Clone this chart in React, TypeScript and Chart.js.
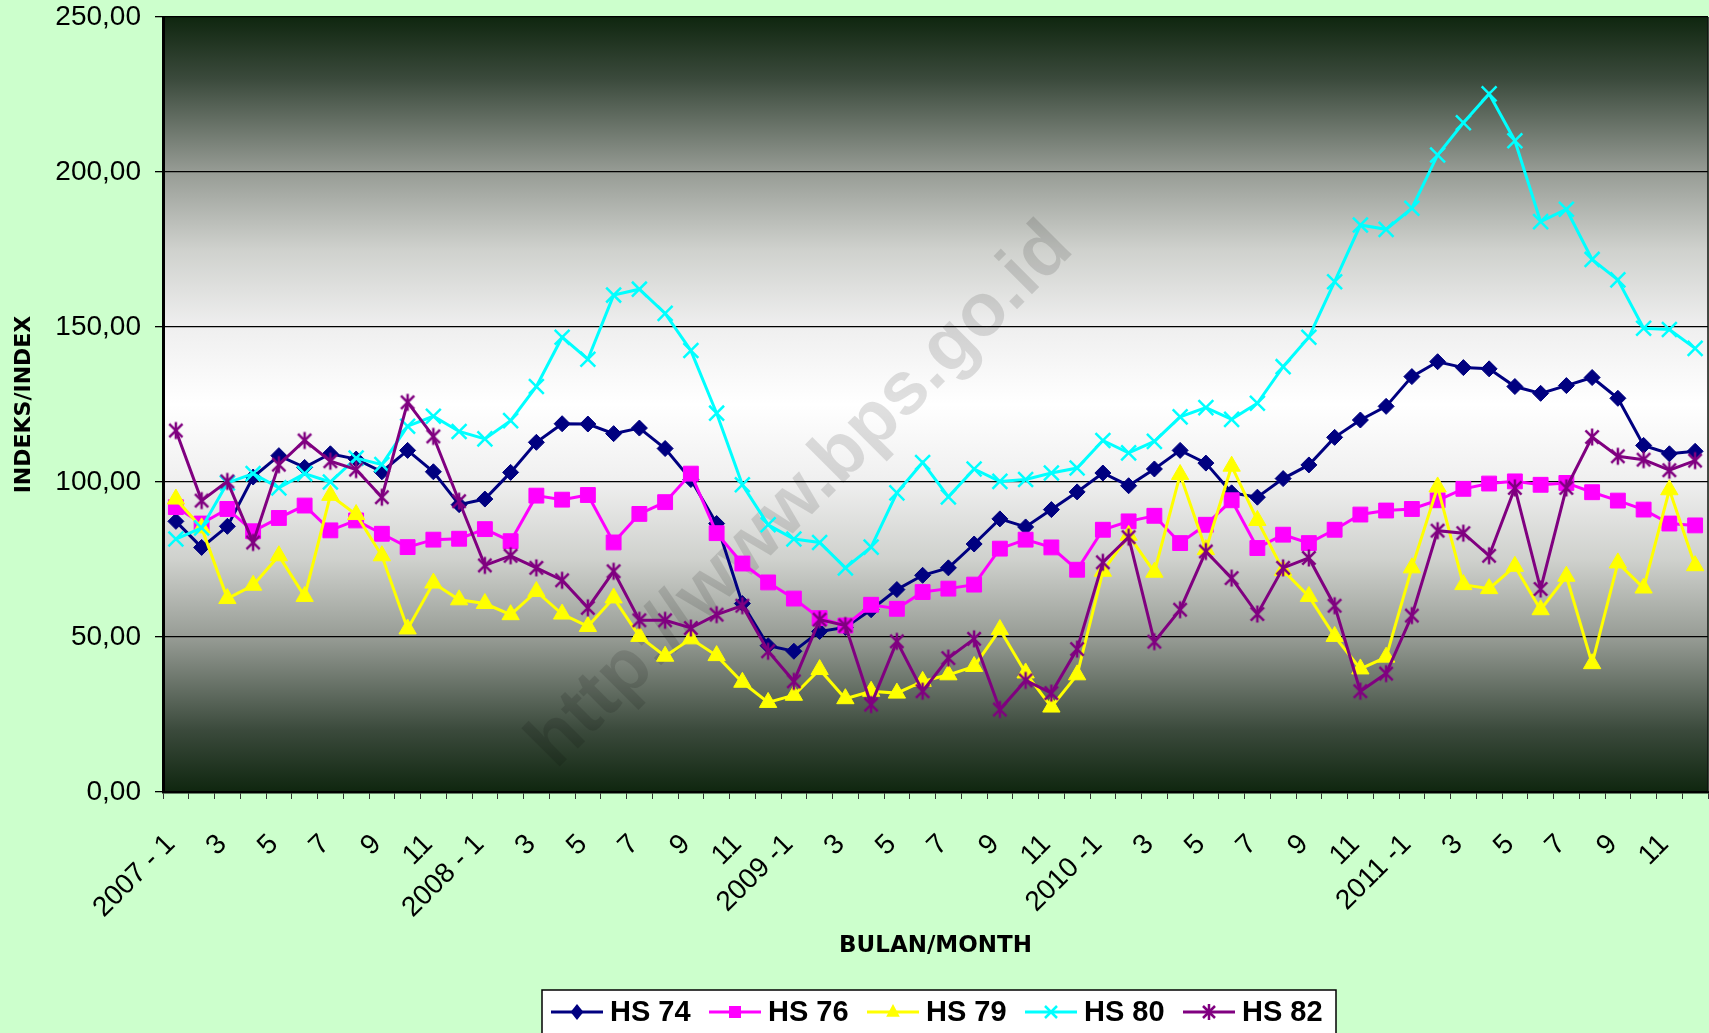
import React, { useEffect, useRef } from 'react';
import { Chart, registerables } from 'chart.js';
Chart.register(...registerables);

const categories = [
  '2007 - 1', '2', '3', '4', '5', '6', '7', '8', '9', '10', '11', '12',
  '2008 - 1', '2', '3', '4', '5', '6', '7', '8', '9', '10', '11', '12',
  '2009 -1', '2', '3', '4', '5', '6', '7', '8', '9', '10', '11', '12',
  '2010 -1', '2', '3', '4', '5', '6', '7', '8', '9', '10', '11', '12',
  '2011 -1', '2', '3', '4', '5', '6', '7', '8', '9', '10', '11', '12',
];

const hs74 = [87.3, 78.9, 85.7, 101.6, 108.5, 104.7, 109.1, 107.4, 103.3, 110.2, 103.3, 92.7, 94.5, 103.1, 112.8, 118.8, 118.7, 115.6, 117.4, 110.8, 100.8, 86.6, 60.8, 47.2, 45.4, 51.8, 53.1, 58.8, 65.3, 69.9, 72.3, 80.0, 88.1, 85.5, 91.1, 96.8, 102.9, 98.8, 104.2, 110.2, 106.1, 96.5, 95.1, 101.1, 105.5, 114.4, 120.0, 124.4, 134.0, 138.8, 136.9, 136.5, 130.8, 128.6, 131.1, 133.7, 127.0, 111.8, 109.1, 109.9];
const hs76 = [91.9, 86.6, 91.3, 84.1, 88.4, 92.4, 84.4, 87.6, 83.3, 79.0, 81.4, 81.7, 84.8, 80.9, 95.6, 94.3, 95.8, 80.5, 89.7, 93.5, 102.7, 83.5, 73.7, 67.6, 62.4, 56.1, 53.7, 60.4, 59.1, 64.5, 65.6, 66.9, 78.5, 81.4, 78.9, 71.7, 84.6, 87.3, 89.1, 80.3, 86.2, 94.1, 78.7, 83.0, 80.3, 84.6, 89.5, 90.8, 91.3, 94.1, 97.8, 99.5, 100.2, 99.1, 99.7, 96.7, 94.0, 91.1, 86.6, 86.0];
const hs79 = [94.5, 85.2, 62.4, 66.7, 76.2, 63.1, 95.7, 89.5, 76.2, 52.6, 67.4, 62.0, 60.8, 57.2, 64.7, 57.4, 53.4, 62.6, 50.2, 43.8, 49.4, 44.0, 35.4, 28.9, 31.2, 39.5, 30.1, 32.5, 31.9, 35.7, 37.8, 40.5, 52.4, 38.4, 27.4, 37.8, 71.2, 82.8, 70.9, 102.4, 78.2, 105.1, 87.6, 71.5, 63.1, 50.2, 39.7, 43.5, 72.3, 98.4, 66.9, 65.6, 72.8, 58.8, 69.6, 41.4, 73.9, 65.8, 97.5, 73.0];
const hs80 = [81.6, 85.2, 99.7, 102.7, 98.1, 102.7, 100.0, 107.7, 105.6, 118.0, 121.2, 116.3, 113.9, 119.8, 130.8, 146.7, 139.6, 160.3, 162.2, 154.4, 142.4, 122.2, 99.1, 86.2, 81.6, 80.5, 72.3, 79.0, 96.5, 106.3, 95.2, 104.2, 100.2, 100.8, 102.9, 104.5, 113.4, 109.4, 113.1, 121.0, 124.0, 120.2, 125.4, 137.2, 146.7, 164.6, 182.9, 181.5, 188.3, 205.5, 215.9, 225.2, 210.1, 184.0, 188.0, 171.8, 165.2, 149.6, 149.2, 143.1];
const hs82 = [116.6, 94.0, 100.2, 80.5, 105.6, 113.4, 106.7, 104.0, 95.1, 125.7, 114.7, 93.8, 73.1, 76.2, 72.3, 68.3, 59.4, 71.2, 55.4, 55.4, 52.9, 57.2, 60.1, 45.4, 35.7, 55.6, 53.7, 28.2, 48.6, 32.5, 43.2, 49.4, 26.6, 36.0, 31.9, 46.1, 74.1, 82.2, 48.5, 58.8, 77.6, 69.0, 57.4, 72.3, 75.5, 60.1, 32.5, 38.2, 56.9, 84.3, 83.5, 76.2, 98.1, 65.5, 98.1, 114.5, 108.3, 107.2, 103.8, 106.9];

const seriesNames = ['HS 74', 'HS 76', 'HS 79', 'HS 80', 'HS 82'];
const seriesColors = ['#000080', '#FF00FF', '#FFFF00', '#00FFFF', '#800080'];
const yMin = 0;
const yMax = 250;
const yStep = 50;
const xTitle = 'BULAN/MONTH';
const yTitle = 'INDEKS/INDEX';
const watermark = 'http://www.bps.go.id';

function makeAsterisk(color: string, r: number, lw: number) {
  const c = document.createElement('canvas');
  const s = Math.ceil(2 * r + lw * 2);
  c.width = s;
  c.height = s;
  const g = c.getContext('2d')!;
  g.strokeStyle = color;
  g.lineWidth = lw;
  const cx = s / 2, cy = s / 2;
  const d = r * 0.78;
  g.beginPath();
  g.moveTo(cx, cy - r); g.lineTo(cx, cy + r);
  g.moveTo(cx - d, cy - d); g.lineTo(cx + d, cy + d);
  g.moveTo(cx + d, cy - d); g.lineTo(cx - d, cy + d);
  g.stroke();
  return c;
}

function drawMarker(ctx: CanvasRenderingContext2D, kind: string, x: number, y: number, color: string, r: number) {
  ctx.save();
  ctx.fillStyle = color;
  ctx.strokeStyle = color;
  ctx.lineWidth = 2.5;
  ctx.beginPath();
  if (kind === 'diamond') {
    ctx.moveTo(x, y - r); ctx.lineTo(x + r * 0.8, y); ctx.lineTo(x, y + r); ctx.lineTo(x - r * 0.8, y); ctx.closePath(); ctx.fill();
  } else if (kind === 'square') {
    ctx.rect(x - r * 0.75, y - r * 0.75, r * 1.5, r * 1.5); ctx.fill();
  } else if (kind === 'triangle') {
    ctx.moveTo(x, y - r); ctx.lineTo(x + r * 0.85, y + r * 0.6); ctx.lineTo(x - r * 0.85, y + r * 0.6); ctx.closePath(); ctx.fill();
  } else if (kind === 'x') {
    const d = r * 0.75;
    ctx.moveTo(x - d, y - d); ctx.lineTo(x + d, y + d); ctx.moveTo(x + d, y - d); ctx.lineTo(x - d, y + d); ctx.stroke();
  } else {
    const d = r * 0.75;
    ctx.moveTo(x, y - r); ctx.lineTo(x, y + r);
    ctx.moveTo(x - d, y - d); ctx.lineTo(x + d, y + d); ctx.moveTo(x + d, y - d); ctx.lineTo(x - d, y + d); ctx.stroke();
  }
  ctx.restore();
}

const markerKinds = ['diamond', 'square', 'triangle', 'x', 'star'];

const backgroundPlugin = {
  id: 'bgGradient',
  beforeDraw(chart: any) {
    const { ctx, chartArea: a } = chart;
    ctx.save();
    ctx.fillStyle = '#CCFFCC';
    ctx.fillRect(0, 0, chart.width, chart.height);
    const g = ctx.createLinearGradient(0, a.top, 0, a.bottom);
    g.addColorStop(0, '#0f260f');
    g.addColorStop(0.08, '#3b4a3c');
    g.addColorStop(0.2, '#979c95');
    g.addColorStop(0.3, '#cfd1cd');
    g.addColorStop(0.4, '#efefef');
    g.addColorStop(0.5, '#ffffff');
    g.addColorStop(0.6, '#efefef');
    g.addColorStop(0.7, '#cfd1cd');
    g.addColorStop(0.8, '#979c95');
    g.addColorStop(0.92, '#3b4a3c');
    g.addColorStop(1, '#0f260f');
    ctx.fillStyle = g;
    ctx.fillRect(a.left, a.top, a.right - a.left, a.bottom - a.top);
    ctx.restore();
  },
  beforeDatasetsDraw(chart: any) {
    const { ctx, chartArea: a } = chart;
    ctx.save();
    ctx.beginPath();
    ctx.rect(a.left, a.top, a.right - a.left, a.bottom - a.top);
    ctx.clip();
    ctx.translate(801, 496);
    ctx.rotate(-Math.PI / 4);
    ctx.font = 'bold 75px "Liberation Sans", Arial, sans-serif';
    ctx.fillStyle = 'rgba(0,0,0,0.12)';
    ctx.textAlign = 'center';
    ctx.textBaseline = 'middle';
    ctx.fillText(watermark, 0, 0);
    ctx.restore();
    ctx.save();
    ctx.strokeStyle = '#111';
    ctx.lineWidth = 1.5;
    ctx.beginPath();
    ctx.moveTo(a.right, a.top);
    ctx.lineTo(a.right, a.bottom);
    ctx.stroke();
    ctx.restore();
  },
};

const legendPlugin = {
  id: 'boxLegend',
  afterDraw(chart: any) {
    const ctx = chart.ctx as CanvasRenderingContext2D;
    ctx.save();
    const x0 = 542, y0 = 990, w = 794, h = 60;
    ctx.fillStyle = '#ffffff';
    ctx.fillRect(x0, y0, w, h);
    ctx.strokeStyle = '#000';
    ctx.lineWidth = 1.5;
    ctx.strokeRect(x0, y0, w, h);
    const cy = 1012;
    chart.data.datasets.forEach((ds: any, i: number) => {
      const lx = 551 + i * 158;
      ctx.strokeStyle = ds.borderColor;
      ctx.lineWidth = 3;
      ctx.beginPath();
      ctx.moveTo(lx, cy);
      ctx.lineTo(lx + 52, cy);
      ctx.stroke();
      drawMarker(ctx, markerKinds[i], lx + 26, cy, ds.borderColor, 8);
      ctx.fillStyle = '#000';
      ctx.font = 'bold 29px "Liberation Sans", Arial, sans-serif';
      ctx.textAlign = 'left';
      ctx.textBaseline = 'middle';
      ctx.fillText(ds.label, lx + 59, cy + 1);
    });
    ctx.restore();
  },
};

export default function App() {
  const ref = useRef<HTMLCanvasElement>(null);
  useEffect(() => {
    document.body.style.margin = '0';
    const star = makeAsterisk(seriesColors[4], 8.5, 2.5);
    const common = { borderWidth: 3, tension: 0, pointBorderWidth: 1 };
    const chart = new Chart(ref.current!, {
      type: 'line',
      data: {
        labels: categories,
        datasets: [
          { ...common, label: seriesNames[0], data: hs74, borderColor: seriesColors[0], backgroundColor: seriesColors[0], pointBackgroundColor: seriesColors[0], pointBorderColor: seriesColors[0], pointStyle: 'rectRot', pointRadius: 8, order: 4 },
          { ...common, label: seriesNames[1], data: hs76, borderColor: seriesColors[1], backgroundColor: seriesColors[1], pointBackgroundColor: seriesColors[1], pointBorderColor: seriesColors[1], pointStyle: 'rect', pointRadius: 10.5, order: 3 },
          { ...common, label: seriesNames[2], data: hs79, borderColor: seriesColors[2], backgroundColor: seriesColors[2], pointBackgroundColor: seriesColors[2], pointBorderColor: seriesColors[2], pointStyle: 'triangle', pointRadius: 10, order: 2 },
          { ...common, label: seriesNames[3], data: hs80, borderColor: seriesColors[3], backgroundColor: seriesColors[3], pointBackgroundColor: seriesColors[3], pointBorderColor: seriesColors[3], pointStyle: 'crossRot', pointRadius: 10.5, pointBorderWidth: 2.5, order: 1 },
          { ...common, label: seriesNames[4], data: hs82, borderColor: seriesColors[4], backgroundColor: seriesColors[4], pointBackgroundColor: seriesColors[4], pointBorderColor: seriesColors[4], pointStyle: star as any, pointRadius: 9, order: 0 },
        ],
      },
      options: {
        animation: false,
        responsive: false,
        devicePixelRatio: 1,
        layout: { autoPadding: false, padding: { top: 17, right: 1, bottom: 0, left: 0 } },
        plugins: { legend: { display: false }, tooltip: { enabled: false } },
        scales: {
          x: {
            type: 'category',
            offset: true,
            grid: { offset: true, drawOnChartArea: false, drawTicks: true, tickLength: 7, color: '#333', lineWidth: 1 },
            border: { color: '#000', width: 2.5 },
            ticks: {
              autoSkip: false,
              maxRotation: 45,
              minRotation: 45,
              padding: 29,
              labelOffset: -5,
              color: '#000',
              font: { family: '"Liberation Sans", Arial, sans-serif', size: 28 },
              callback: (_v: any, i: number) => (i % 2 === 0 ? categories[i] : ''),
            },
            title: {
              display: true,
              text: xTitle,
              color: '#000',
              font: { family: '"DejaVu Sans", sans-serif', size: 23, weight: 'bold' },
              padding: { top: 0, bottom: 73 },
            },
            afterFit: (s: any) => { s.height = 241; s.paddingLeft = 0; s.paddingRight = 0; },
          },
          y: {
            min: yMin,
            max: yMax,
            ticks: {
              stepSize: yStep,
              padding: 14,
              color: '#000',
              font: { family: '"Liberation Sans", Arial, sans-serif', size: 28 },
              callback: (v: any) => Number(v).toFixed(2).replace('.', ','),
            },
            grid: { color: '#000', lineWidth: 1.3, drawTicks: true, tickLength: 8 },
            border: { color: '#000', width: 3 },
            title: {
              display: true,
              text: yTitle,
              color: '#000',
              font: { family: '"DejaVu Sans", sans-serif', size: 22, weight: 'bold' },
              padding: { top: 11, bottom: 0 },
            },
            afterFit: (s: any) => { s.width = 163; s.paddingTop = 0; s.paddingBottom = 0; },
          },
        },
      },
      plugins: [backgroundPlugin, legendPlugin],
    } as any);
    return () => chart.destroy();
  }, []);
  return (
    <div style={{ width: 1709, height: 1033 }}>
      <canvas ref={ref} width={1709} height={1033} style={{ display: 'block' }} />
    </div>
  );
}
